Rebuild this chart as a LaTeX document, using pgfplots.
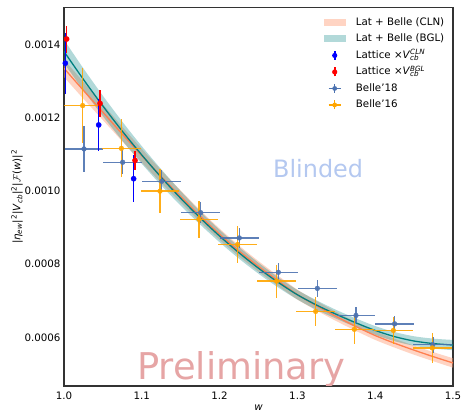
\documentclass[border=0pt]{standalone}
\usepackage{fontspec}
\setmainfont{DejaVu Sans}
\usepackage{pgfplots}
\pgfplotsset{compat=1.18}
\usepackage{pgfplotstable}
\usepgfplotslibrary{fillbetween}

\definecolor{clnband}{RGB}{255,160,122}
\definecolor{clnline}{RGB}{255,127,80}
\definecolor{bglc}{RGB}{0,128,128}
\definecolor{bA}{RGB}{76,114,176}
\definecolor{bB}{RGB}{255,165,0}
\definecolor{blindc}{RGB}{180,200,240}
\definecolor{prelimc}{RGB}{230,165,165}

\pgfplotstableread{
w bgl bgllo bglhi cln clnlo clnhi
1.000 0.0013820 0.0013500 0.0014140 0.0013360 0.0013120 0.0013600
1.025 0.0013055 0.0012755 0.0013355 0.0012755 0.0012525 0.0012985
1.050 0.0012328 0.0012048 0.0012608 0.0012158 0.0011943 0.0012373
1.075 0.0011639 0.0011379 0.0011899 0.0011559 0.0011359 0.0011759
1.100 0.0010989 0.0010749 0.0011229 0.0010969 0.0010784 0.0011154
1.125 0.0010377 0.0010157 0.0010597 0.0010397 0.0010222 0.0010572
1.150 0.0009803 0.0009603 0.0010003 0.0009853 0.0009688 0.0010018
1.175 0.0009268 0.0009088 0.0009448 0.0009318 0.0009158 0.0009478
1.200 0.0008771 0.0008601 0.0008941 0.0008821 0.0008666 0.0008976
1.225 0.0008312 0.0008152 0.0008472 0.0008362 0.0008212 0.0008512
1.250 0.0007891 0.0007741 0.0008041 0.0007941 0.0007796 0.0008086
1.275 0.0007509 0.0007369 0.0007649 0.0007549 0.0007409 0.0007689
1.300 0.0007165 0.0007035 0.0007295 0.0007170 0.0007035 0.0007305
1.325 0.0006880 0.0006750 0.0007010 0.0006860 0.0006730 0.0006990
1.350 0.0006630 0.0006510 0.0006750 0.0006570 0.0006445 0.0006695
1.375 0.0006400 0.0006280 0.0006520 0.0006300 0.0006180 0.0006420
1.400 0.0006190 0.0006070 0.0006310 0.0006050 0.0005930 0.0006170
1.425 0.0006020 0.0005895 0.0006145 0.0005840 0.0005720 0.0005960
1.450 0.0005900 0.0005770 0.0006030 0.0005650 0.0005525 0.0005775
1.475 0.0005830 0.0005695 0.0005965 0.0005470 0.0005345 0.0005595
1.500 0.0005790 0.0005650 0.0005930 0.0005300 0.0005170 0.0005430
}\curves

\pgfplotstableread{
w y ex ey
1.0257 0.0011155 0.025 0.0000627
1.0754 0.0010790 0.025 0.0000330
1.1256 0.0010270 0.025 0.0000300
1.1757 0.0009410 0.025 0.0000280
1.2253 0.0008720 0.025 0.0000280
1.2755 0.0007780 0.025 0.0000260
1.3256 0.0007340 0.025 0.0000230
1.3753 0.0006600 0.025 0.0000220
1.4250 0.0006370 0.025 0.0000220
1.4740 0.0005800 0.025 0.0000220
}\belleA

\pgfplotstableread{
w y ex ey
1.0240 0.0012340 0.025 0.0001020
1.0737 0.0011170 0.025 0.0000790
1.1234 0.0010000 0.025 0.0000600
1.1735 0.0009230 0.025 0.0000500
1.2232 0.0008540 0.025 0.0000510
1.2733 0.0007540 0.025 0.0000450
1.3235 0.0006710 0.025 0.0000400
1.3732 0.0006220 0.025 0.0000400
1.4233 0.0006190 0.025 0.0000380
1.4734 0.0005710 0.025 0.0000400
}\belleB

\pgfplotstableread{
w y ey
1.0017 0.001350 0.000083
1.0446 0.001181 0.000071
1.0895 0.001034 0.000064
}\latcln

\pgfplotstableread{
w y ey
1.0034 0.001416 0.000037
1.0463 0.001240 0.000036
1.0913 0.001084 0.000027
}\latbgl

\newcommand\fs{\fontsize{10.3}{12}\selectfont}

\begin{document}
\begin{tikzpicture}
\begin{axis}[name=ax,
  scale only axis, width=389bp, height=378.5bp,
  xmin=1, xmax=1.5, ymin=0.000467, ymax=0.0015023,
  xtick={1.0,1.1,1.2,1.3,1.4,1.5},
  ytick={0.0006,0.0008,0.0010,0.0012,0.0014},
  scaled ticks=false,
  major tick length=0pt,
  axis line style={black!80, line width=1.1bp},
  /pgf/number format/assume math mode=true,
  tick label style={font=\fs},
  xticklabel style={yshift=-2.5bp, /pgf/number format/.cd, fixed, fixed zerofill, precision=1},
  yticklabel style={/pgf/number format/.cd, fixed, fixed zerofill, precision=4},
  xlabel={\textit{w}},
  xlabel style={font=\fs, at={(axis description cs:0.5,0)}, anchor=center, yshift=-22bp},
  ylabel={|\textit{η}\textsubscript{\textit{ew}}|\textsuperscript{2}|\textit{V}\textsubscript{\textit{cb}}|\textsuperscript{2}|$\mathcal{F}$(\textit{w})|\textsuperscript{2}},
  ylabel style={font=\fs, at={(axis description cs:-0.1208,0.5)}, anchor=center, rotate=0},
  legend cell align=left,
  legend style={draw=none, fill=none, at={(axis description cs:0.6666,0.9828)}, anchor=north west,
    inner sep=0pt, row sep=0pt, column sep=7bp, font=\fs,
    nodes={inner sep=3bp, text height=8bp, text depth=2.5bp}},
]
\addlegendimage{legend image code/.code={\path (0bp,0bp) (22bp,0bp); \path[fill=clnband, fill opacity=0.45, draw=none] (0bp,-3.5bp) rectangle (22bp,3.5bp);}}
\addlegendentry{Lat + Belle (CLN)}
\addlegendimage{legend image code/.code={\path (0bp,0bp) (22bp,0bp); \path[fill=bglc, fill opacity=0.3, draw=none] (0bp,-3.5bp) rectangle (22bp,3.5bp);}}
\addlegendentry{Lat + Belle (BGL)}
\addlegendimage{legend image code/.code={\path (0bp,0bp) (22bp,0bp); \draw[blue, line width=1.6bp] (11bp,-4.5bp)--(11bp,4.5bp); \path[fill=blue, draw=none] (11bp,0bp) circle (2.6bp);}}
\addlegendentry{Lattice ×\textit{V}\rlap{\textsubscript{\textit{cb}}}\textsuperscript{\textit{CLN}}}
\addlegendimage{legend image code/.code={\path (0bp,0bp) (22bp,0bp); \draw[red, line width=1.6bp] (11bp,-4.5bp)--(11bp,4.5bp); \path[fill=red, draw=none] (11bp,0bp) circle (2.6bp);}}
\addlegendentry{Lattice ×\textit{V}\rlap{\textsubscript{\textit{cb}}}\textsuperscript{\textit{BGL}}}
\addlegendimage{legend image code/.code={\path (0bp,0bp) (22bp,0bp); \draw[bA, line width=1.5bp] (11bp,-4.5bp)--(11bp,4.5bp) (5bp,0bp)--(17bp,0bp); \path[fill=bA, draw=none] (11bp,0bp) circle (2.4bp);}}
\addlegendentry{Belle'18}
\addlegendimage{legend image code/.code={\path (0bp,0bp) (22bp,0bp); \draw[bB, line width=1.5bp] (11bp,-4.5bp)--(11bp,4.5bp) (5bp,0bp)--(17bp,0bp); \path[fill=bB, draw=none] (11bp,0bp) circle (2.4bp);}}
\addlegendentry{Belle'16}

% bands
\addplot[name path=clnhi, draw=none, smooth, forget plot] table[x=w, y=clnhi]{\curves};
\addplot[name path=clnlo, draw=none, smooth, forget plot] table[x=w, y=clnlo]{\curves};
\addplot[clnband, fill opacity=0.45, draw=none, forget plot] fill between[of=clnhi and clnlo];
\addplot[name path=bglhi, draw=none, smooth, forget plot] table[x=w, y=bglhi]{\curves};
\addplot[name path=bgllo, draw=none, smooth, forget plot] table[x=w, y=bgllo]{\curves};
\addplot[bglc, fill opacity=0.3, draw=none, forget plot] fill between[of=bglhi and bgllo];
% central lines
\addplot[clnline, line width=1.3bp, smooth, forget plot] table[x=w, y=cln]{\curves};
\addplot[bglc, line width=1.3bp, smooth, forget plot] table[x=w, y=bgl]{\curves};

% Belle'18
\addplot[only marks, mark=*, mark size=2.4bp, color=bA, opacity=0.9, forget plot,
  error bars/.cd, x dir=both, x explicit, y dir=both, y explicit, error mark=none,
  error bar style={line width=1.5bp, color=bA}]
  table[x=w, y=y, x error=ex, y error=ey]{\belleA};
% Belle'16
\addplot[only marks, mark=*, mark size=2.4bp, color=bB, opacity=0.9, forget plot,
  error bars/.cd, x dir=both, x explicit, y dir=both, y explicit, error mark=none,
  error bar style={line width=1.5bp, color=bB}]
  table[x=w, y=y, x error=ex, y error=ey]{\belleB};
% Lattice
\addplot[only marks, mark=*, mark size=2.6bp, color=blue, forget plot,
  error bars/.cd, y dir=both, y explicit, error mark=none,
  error bar style={line width=1.6bp, color=blue}]
  table[x=w, y=y, y error=ey]{\latcln};
\addplot[only marks, mark=*, mark size=2.6bp, color=red, forget plot,
  error bars/.cd, y dir=both, y explicit, error mark=none,
  error bar style={line width=1.6bp, color=red}]
  table[x=w, y=y, y error=ey]{\latbgl};

\node[anchor=base west, inner sep=0pt, text=blindc, font=\fontsize{24}{28}\selectfont] at (axis cs:1.2686,0.001037) {Blinded};
\node[anchor=base west, inner sep=0pt, text=prelimc, font=\fontsize{37}{42}\selectfont] at (axis cs:1.0938,0.000486) {Preliminary};
\end{axis}
\pgfresetboundingbox
\path (ax.south west) ++(-64bp,-27bp) rectangle ++(462bp,413bp);
\end{tikzpicture}
\end{document}
